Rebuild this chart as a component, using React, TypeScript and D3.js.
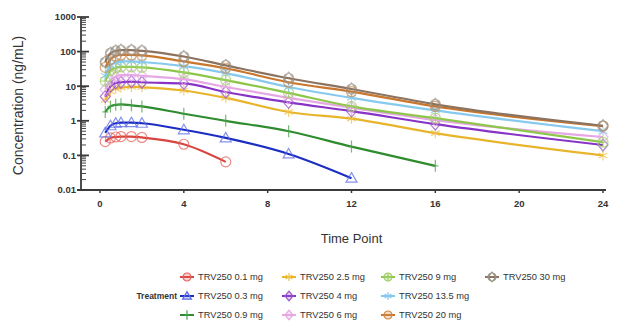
import * as d3 from 'd3'

const TIMES = [0.25, 0.5, 0.75, 1, 1.5, 2, 4, 6, 9, 12, 16, 24]

const DOSES = ['0.1', '0.3', '0.9', '2.5', '4', '6', '9', '13.5', '20', '30']

const CONC_01 = [0.25, 0.32, 0.34, 0.35, 0.35, 0.33, 0.21, 0.065]
const CONC_03 = [0.45, 0.72, 0.85, 0.88, 0.88, 0.85, 0.55, 0.32, 0.11, 0.022]
const CONC_09 = [1.8, 2.6, 2.9, 3.0, 2.8, 2.6, 1.6, 1.0, 0.5, 0.18, 0.05]
const CONC_25 = [4.0, 7.0, 8.5, 9.0, 9.5, 9.3, 7.5, 4.6, 1.8, 1.15, 0.44, 0.1]
const CONC_4 = [5.0, 10, 12.5, 13, 13.5, 13, 12, 6.8, 3.4, 1.9, 0.8, 0.2]
const CONC_6 = [8, 15, 19, 21, 21, 20, 16, 9.5, 4.6, 2.4, 1.05, 0.34]
const CONC_9 = [14, 28, 34, 36, 36, 35, 25, 15, 6.4, 2.6, 1.2, 0.24]
const CONC_135 = [20, 40, 48, 52, 52, 50, 38, 24, 9.5, 4.6, 2.0, 0.5]
const CONC_20 = [35, 60, 75, 80, 80, 78, 52, 33, 13, 7, 2.6, 0.7]
const CONC_30 = [50, 90, 105, 110, 110, 105, 72, 40, 17, 8.3, 3.0, 0.72]

const SERIES_VALUES = [CONC_01, CONC_03, CONC_09, CONC_25, CONC_4, CONC_6, CONC_9, CONC_135, CONC_20, CONC_30]

const X_TICKS = [0, 4, 8, 12, 16, 20, 24]
const Y_TICKS = [0.01, 0.1, 1, 10, 100, 1000]

type Shape = 'circle' | 'triangle' | 'plus' | 'star' | 'diamond' | 'circlePlus' | 'circleDiamond'

const STYLE: { line: string; mark: string; shape: Shape }[] = [
  { line: '#d8453f', mark: '#e5635d', shape: 'circle' },
  { line: '#1b2dc2', mark: '#5e6ce6', shape: 'triangle' },
  { line: '#2e8c2e', mark: '#4aa04a', shape: 'plus' },
  { line: '#e8b42a', mark: '#f0c24a', shape: 'star' },
  { line: '#8733c6', mark: '#9a55d0', shape: 'diamond' },
  { line: '#e6a8e3', mark: '#e6a8e3', shape: 'diamond' },
  { line: '#8ec64c', mark: '#9fcf66', shape: 'circlePlus' },
  { line: '#88c9ee', mark: '#88c9ee', shape: 'star' },
  { line: '#c9772c', mark: '#d08a48', shape: 'circle' },
  { line: '#8c7360', mark: '#9a9285', shape: 'circleDiamond' },
]

function markPath(shape: Shape, s: number): string {
  const c = `M${-s},0A${s},${s} 0 1,0 ${s},0A${s},${s} 0 1,0 ${-s},0Z`
  const dia = `M0,${-s * 1.2}L${s},0L0,${s * 1.2}L${-s},0Z`
  switch (shape) {
    case 'circle': return c
    case 'triangle': return `M0,${-s * 1.1}L${s * 1.1},${s * 0.8}L${-s * 1.1},${s * 0.8}Z`
    case 'plus': return `M0,${-s * 1.2}V${s * 1.2}M${-s * 0.6},0H${s * 0.6}`
    case 'star': return `M0,${-s}V${s}M${-s * 0.87},${-s * 0.5}L${s * 0.87},${s * 0.5}M${-s * 0.87},${s * 0.5}L${s * 0.87},${-s * 0.5}`
    case 'diamond': return dia
    case 'circlePlus': return c + `M0,${-s}V${s}M${-s},0H${s}`
    case 'circleDiamond': return c + dia
  }
}

const W = 618
const H = 325
const FONT = '"Liberation Sans", Arial, sans-serif'

export default function App() {
  const x = d3.scaleLinear().domain([0, 24]).range([100, 603])
  const y = d3.scaleLog().domain([0.01, 1000]).range([190, 17])
  const line = d3.line<[number, number]>()
    .x(d => x(d[0])).y(d => y(d[1]))
    .curve(d3.curveMonotoneX)

  const minor: number[] = []
  for (let e = -2; e < 3; e++) for (let k = 2; k <= 9; k++) minor.push(k * Math.pow(10, e))

  const axisX = 81
  const axisY = y(0.01)

  const legendCols = [187, 289, 388, 492]
  const legendRows = [277, 296, 315]

  return (
    <svg width={W} height={H} style={{ position: 'absolute', left: 0, top: 0, background: '#fff' }}
      fontFamily={FONT}>
      {/* y axis */}
      <line x1={axisX} x2={axisX} y1={y(1000)} y2={axisY} stroke="#3a3a3a" strokeWidth={1.8} />
      {minor.map(v => (
        <line key={'m' + v} x1={axisX} x2={axisX + 5} y1={y(v)} y2={y(v)} stroke="#444" strokeWidth={1} />
      ))}
      {Y_TICKS.map(v => (
        <g key={'y' + v}>
          <line x1={axisX - 4} x2={axisX + 8} y1={y(v)} y2={y(v)} stroke="#3a3a3a" strokeWidth={1.8} />
          <text x={axisX - 5} y={y(v)} dy="0.35em" textAnchor="end" fontSize={9.5} fontWeight={700} fill="#333">
            {d3.format('~g')(v)}
          </text>
        </g>
      ))}
      {/* x axis */}
      <line x1={axisX - 4} x2={606} y1={axisY} y2={axisY} stroke="#3a3a3a" strokeWidth={1.8} />
      {X_TICKS.map(v => (
        <g key={'x' + v}>
          <line x1={x(v)} x2={x(v)} y1={axisY} y2={axisY + 3} stroke="#3a3a3a" strokeWidth={1.5} />
          <text x={x(v)} y={axisY + 17} textAnchor="middle" fontSize={9.5} fontWeight={700} fill="#333">{v}</text>
        </g>
      ))}
      <text x={x(12)} y={243} textAnchor="middle" fontSize={13} fill="#333">Time Point</text>
      <text transform={`translate(23,${(y(1000) + axisY) / 2 + 2}) rotate(-90)`} textAnchor="middle"
        fontSize={14} fill="#333">Concentration (ng/mL)</text>

      {/* series */}
      {SERIES_VALUES.map((vals, i) => {
        const pts = vals.map((v, j) => [TIMES[j], v] as [number, number])
        const st = STYLE[i]
        return (
          <g key={'s' + i}>
            <path d={line(pts) ?? ''} fill="none" stroke={st.line} strokeWidth={2.2} />
            {pts.map((p, j) => (
              <path key={j} transform={`translate(${x(p[0])},${y(p[1])})`} d={markPath(st.shape, 5)}
                fill="none" stroke={st.mark} strokeOpacity={0.75} strokeWidth={1.2} />
            ))}
          </g>
        )
      })}

      {/* legend */}
      <text x={177} y={legendRows[1]} dy="0.35em" textAnchor="end" fontSize={8.5} fontWeight={700} fill="#333">Treatment</text>
      {DOSES.map((d, i) => {
        const cx = legendCols[Math.floor(i / 3)]
        const cy = legendRows[i % 3]
        const st = STYLE[i]
        return (
          <g key={'l' + i}>
            <line x1={cx - 7} x2={cx + 7} y1={cy} y2={cy} stroke={st.line} strokeWidth={2} />
            <path transform={`translate(${cx},${cy})`} d={markPath(st.shape, 4)}
              fill={st.mark} fillOpacity={0.3} stroke={st.mark} strokeWidth={1.2} />
            <text x={cx + 11} y={cy} dy="0.35em" fontSize={9.3} fill="#333">{`TRV250 ${d} mg`}</text>
          </g>
        )
      })}
    </svg>
  )
}
